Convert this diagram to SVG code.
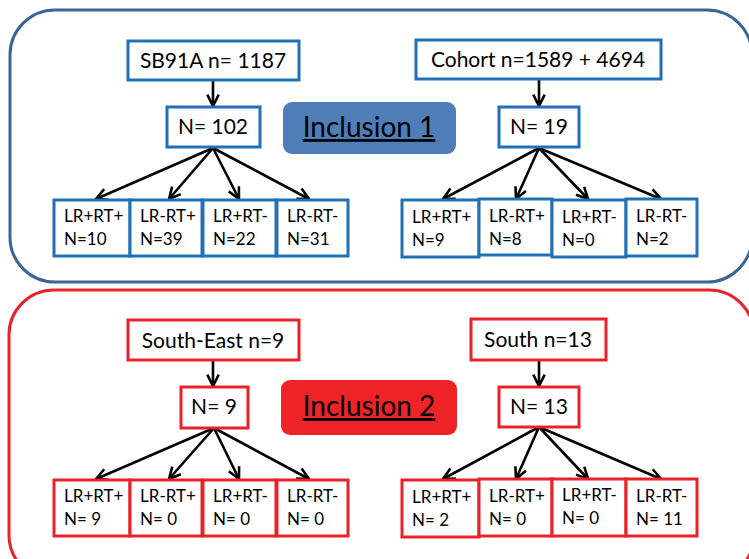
<svg xmlns="http://www.w3.org/2000/svg" width="749" height="559" viewBox="0 0 749 559">
<defs>
<style>
.t{font-family:Lato,"Liberation Sans",sans-serif;fill:#000}
.big{font-size:21px}
.sm{font-size:17px}
.bn{fill:#fff;stroke:#2270B6;stroke-width:3}
.rn{fill:#fff;stroke:#E8222A;stroke-width:3}
.ar{stroke:#000;stroke-width:2.6;fill:none}
</style>
<marker id="ah" viewBox="0 0 10 10" refX="9" refY="5" markerWidth="5.5" markerHeight="5.5" orient="auto" markerUnits="strokeWidth">
<path d="M1,1 L9,5 L1,9" fill="none" stroke="#000" stroke-width="1.8"/>
</marker>
</defs>
<rect width="749" height="559" fill="#fff"/>
<g id="panel1"><rect x="10" y="10" width="742" height="272" rx="45" fill="#fff" stroke="#3B6596" stroke-width="3"/></g>
<g id="panel2"><rect x="9" y="290" width="745" height="290" rx="45" fill="#fff" stroke="#E8222A" stroke-width="3"/></g>

<g id="connectors">
<line class="ar" x1="213" y1="81" x2="213" y2="106" marker-end="url(#ah)"/>
<line class="ar" x1="213" y1="148" x2="96" y2="199" marker-end="url(#ah)"/>
<line class="ar" x1="213" y1="148" x2="169" y2="199" marker-end="url(#ah)"/>
<line class="ar" x1="213" y1="148" x2="239" y2="199" marker-end="url(#ah)"/>
<line class="ar" x1="213" y1="148" x2="309" y2="199" marker-end="url(#ah)"/>
<line class="ar" x1="539" y1="80" x2="539" y2="106" marker-end="url(#ah)"/>
<line class="ar" x1="539" y1="148" x2="443" y2="199" marker-end="url(#ah)"/>
<line class="ar" x1="539" y1="148" x2="516" y2="199" marker-end="url(#ah)"/>
<line class="ar" x1="539" y1="148" x2="588" y2="199" marker-end="url(#ah)"/>
<line class="ar" x1="539" y1="148" x2="661" y2="199" marker-end="url(#ah)"/>
<line class="ar" x1="213" y1="361" x2="213" y2="386" marker-end="url(#ah)"/>
<line class="ar" x1="214" y1="428" x2="96" y2="479" marker-end="url(#ah)"/>
<line class="ar" x1="214" y1="428" x2="169" y2="479" marker-end="url(#ah)"/>
<line class="ar" x1="214" y1="428" x2="239" y2="479" marker-end="url(#ah)"/>
<line class="ar" x1="214" y1="428" x2="309" y2="479" marker-end="url(#ah)"/>
<line class="ar" x1="539" y1="360" x2="539" y2="386" marker-end="url(#ah)"/>
<line class="ar" x1="539" y1="427" x2="443" y2="479" marker-end="url(#ah)"/>
<line class="ar" x1="539" y1="427" x2="516" y2="479" marker-end="url(#ah)"/>
<line class="ar" x1="539" y1="427" x2="588" y2="479" marker-end="url(#ah)"/>
<line class="ar" x1="539" y1="427" x2="661" y2="479" marker-end="url(#ah)"/>
</g>

<g id="inc1"><rect x="283" y="102" width="173" height="52" rx="9" fill="#4F7DB8"/>
<text class="t" x="369" y="137" font-size="28" text-anchor="middle" text-decoration="underline">Inclusion 1</text></g>
<g id="inc2"><rect x="281" y="380" width="176" height="55" rx="9" fill="#EE2326"/>
<text class="t" x="369" y="416" font-size="28" text-anchor="middle" text-decoration="underline">Inclusion 2</text></g>

<g id="sb91a"><rect class="bn" x="128" y="41" width="171" height="39"/><text class="t big" x="213" y="68" text-anchor="middle">SB91A n= 1187</text></g>
<g id="n102"><rect class="bn" x="167" y="107" width="93" height="40"/><text class="t big" x="213" y="134" text-anchor="middle">N= 102</text></g>
<g id="b1"><rect class="bn" x="54" y="200" width="76" height="56"/><text class="t sm" x="64" y="222">LR+RT+</text><text class="t sm" x="64" y="245">N=10</text></g>
<g id="b2"><rect class="bn" x="130" y="200" width="72" height="56"/><text class="t sm" x="140" y="222">LR-RT+</text><text class="t sm" x="140" y="245">N=39</text></g>
<g id="b3"><rect class="bn" x="203" y="200" width="73" height="56"/><text class="t sm" x="213" y="222">LR+RT-</text><text class="t sm" x="213" y="245">N=22</text></g>
<g id="b4"><rect class="bn" x="277" y="200" width="71" height="56"/><text class="t sm" x="287" y="222">LR-RT-</text><text class="t sm" x="287" y="245">N=31</text></g>

<g id="cohort"><rect class="bn" x="416" y="40" width="245" height="39"/><text class="t big" x="538" y="67" text-anchor="middle">Cohort n=1589 + 4694</text></g>
<g id="n19"><rect class="bn" x="499" y="107" width="80" height="40"/><text class="t big" x="539" y="134" text-anchor="middle">N= 19</text></g>
<g id="c1"><rect class="bn" x="402" y="200" width="77" height="57"/><text class="t sm" x="412" y="223">LR+RT+</text><text class="t sm" x="412" y="246">N=9</text></g>
<g id="c2"><rect class="bn" x="479" y="199" width="73" height="56"/><text class="t sm" x="489" y="222">LR-RT+</text><text class="t sm" x="489" y="245">N=8</text></g>
<g id="c3"><rect class="bn" x="552" y="200" width="74" height="57"/><text class="t sm" x="562" y="223">LR+RT-</text><text class="t sm" x="562" y="246">N=0</text></g>
<g id="c4"><rect class="bn" x="626" y="199" width="71" height="57"/><text class="t sm" x="636" y="222">LR-RT-</text><text class="t sm" x="636" y="245">N=2</text></g>

<g id="southeast"><rect class="rn" x="128" y="320" width="171" height="40"/><text class="t big" x="213" y="348" text-anchor="middle">South-East n=9</text></g>
<g id="n9"><rect class="rn" x="181" y="387" width="67" height="41"/><text class="t big" x="214" y="414" text-anchor="middle">N= 9</text></g>
<g id="d1"><rect class="rn" x="54" y="480" width="76" height="56"/><text class="t sm" x="64" y="502">LR+RT+</text><text class="t sm" x="64" y="525">N= 9</text></g>
<g id="d2"><rect class="rn" x="130" y="480" width="72" height="56"/><text class="t sm" x="140" y="502">LR-RT+</text><text class="t sm" x="140" y="525">N= 0</text></g>
<g id="d3"><rect class="rn" x="203" y="480" width="73" height="56"/><text class="t sm" x="213" y="502">LR+RT-</text><text class="t sm" x="213" y="525">N= 0</text></g>
<g id="d4"><rect class="rn" x="277" y="480" width="71" height="56"/><text class="t sm" x="287" y="502">LR-RT-</text><text class="t sm" x="287" y="525">N= 0</text></g>

<g id="south"><rect class="rn" x="471" y="319" width="135" height="41"/><text class="t big" x="538" y="347" text-anchor="middle">South n=13</text></g>
<g id="n13"><rect class="rn" x="499" y="387" width="80" height="40"/><text class="t big" x="539" y="414" text-anchor="middle">N= 13</text></g>
<g id="e1"><rect class="rn" x="402" y="480" width="77" height="57"/><text class="t sm" x="412" y="503">LR+RT+</text><text class="t sm" x="412" y="526">N= 2</text></g>
<g id="e2"><rect class="rn" x="479" y="479" width="73" height="57"/><text class="t sm" x="489" y="502">LR-RT+</text><text class="t sm" x="489" y="525">N= 0</text></g>
<g id="e3"><rect class="rn" x="552" y="479" width="74" height="57"/><text class="t sm" x="562" y="501">LR+RT-</text><text class="t sm" x="562" y="524">N= 0</text></g>
<g id="e4"><rect class="rn" x="626" y="479" width="71" height="57"/><text class="t sm" x="636" y="502">LR-RT-</text><text class="t sm" x="636" y="525">N= 11</text></g>
</svg>
